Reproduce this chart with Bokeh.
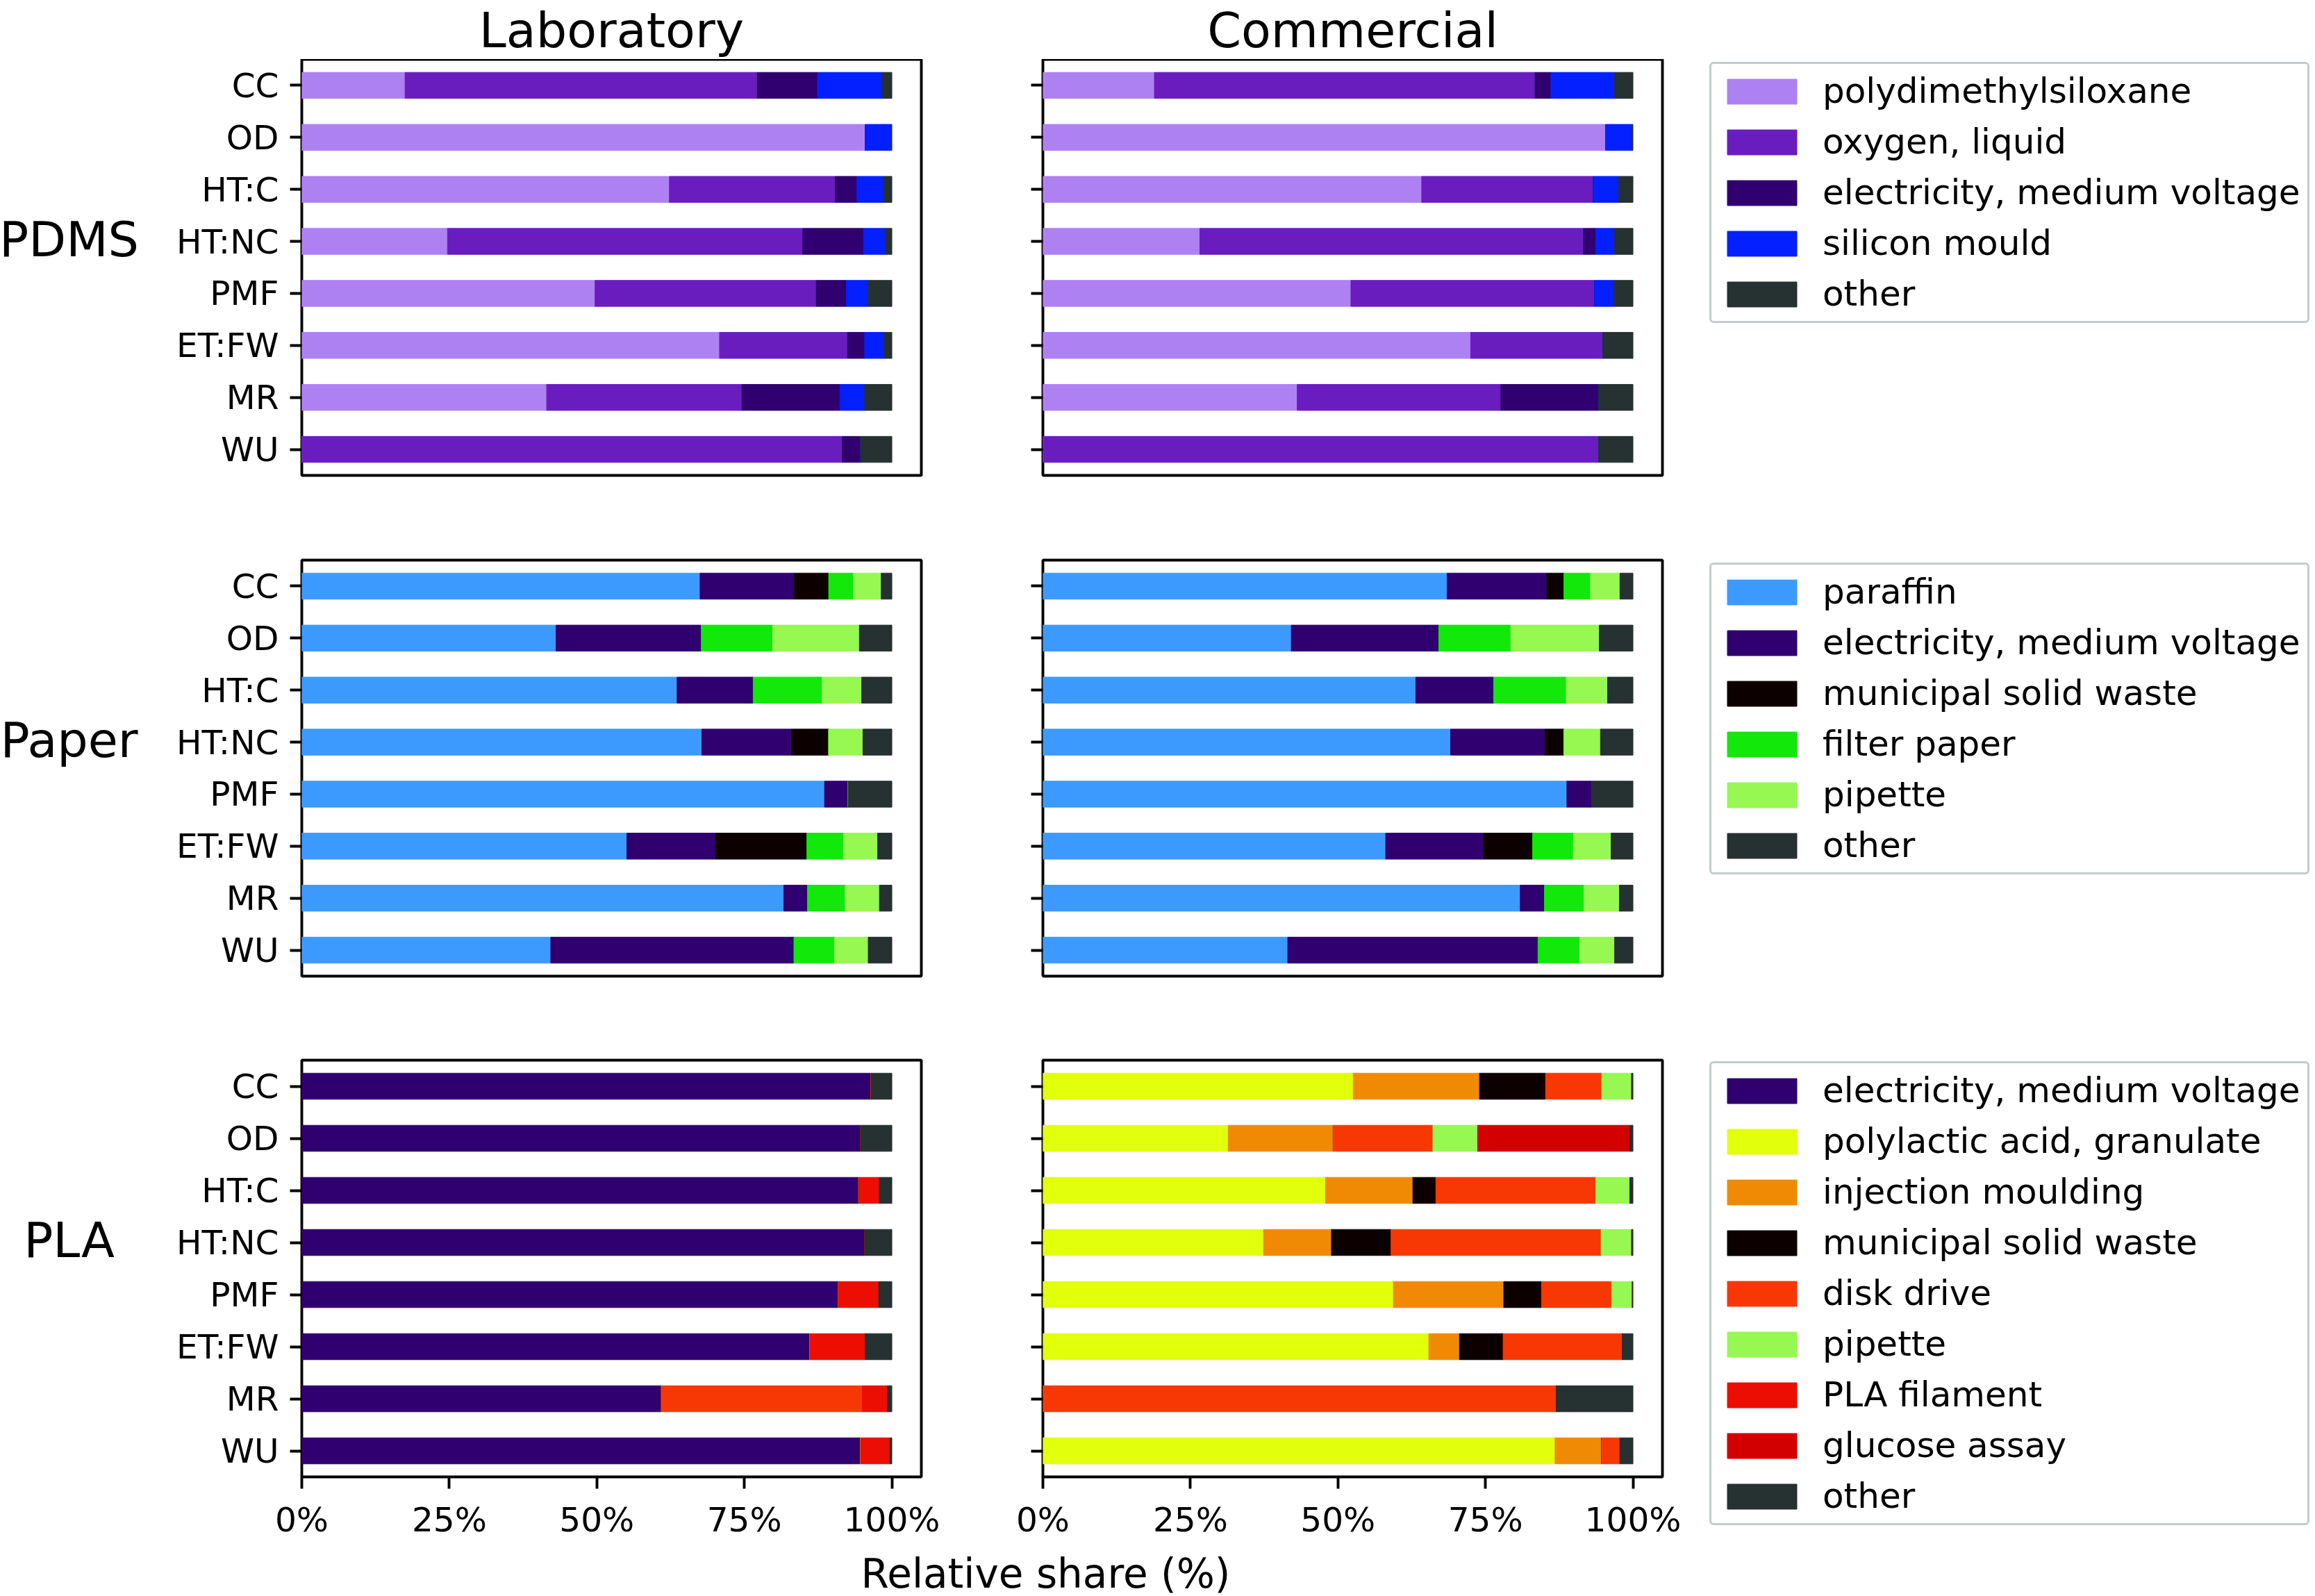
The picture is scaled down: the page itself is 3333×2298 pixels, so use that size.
from bokeh.plotting import figure
from bokeh.layouts import row, column
from bokeh.models import Range1d, FactorRange, FixedTicker, ColumnDataSource, Legend, LegendItem
from bokeh.core.properties import value
from bokeh.embed import file_html
from bokeh.resources import INLINE

# ---------------- data ----------------
categories = ["CC", "OD", "HT:C", "HT:NC", "PMF", "ET:FW", "MR", "WU"]
x_ticks = [0, 25, 50, 75, 100]
x_tick_labels = ["0%", "25%", "50%", "75%", "100%"]
column_titles = ["Laboratory", "Commercial"]
row_titles = ["PDMS", "Paper", "PLA"]
x_label = "Relative share (%)"

pdms_series = ["polydimethylsiloxane", "oxygen, liquid", "electricity, medium voltage",
               "silicon mould", "other"]
pdms_colors = ["#ae81f3", "#6a1dbf", "#300070", "#0420ff", "#263131"]
pdms_lab = {
    "polydimethylsiloxane":        [17.5, 95.5, 62.3, 24.7, 49.7, 70.8, 41.5, 0.0],
    "oxygen, liquid":              [59.7, 0.0, 28.1, 60.2, 37.5, 21.7, 33.1, 91.6],
    "electricity, medium voltage": [10.2, 0.0, 3.7, 10.3, 5.1, 2.9, 16.6, 3.1],
    "silicon mould":               [11.0, 4.4, 4.5, 3.8, 3.7, 3.3, 4.2, 0.0],
    "other":                       [1.6, 0.1, 1.4, 1.0, 4.0, 1.3, 4.6, 5.3],
}
pdms_com = {
    "polydimethylsiloxane":        [18.9, 95.4, 64.2, 26.6, 52.2, 72.5, 43.1, 0.0],
    "oxygen, liquid":              [64.5, 0.0, 29.1, 65.0, 41.3, 22.4, 34.5, 94.2],
    "electricity, medium voltage": [2.7, 0.0, 0.0, 2.1, 0.0, 0.0, 16.6, 0.0],
    "silicon mould":               [10.8, 4.5, 4.3, 3.2, 3.3, 0.0, 0.0, 0.0],
    "other":                       [3.1, 0.1, 2.4, 3.1, 3.2, 5.1, 5.8, 5.8],
}

paper_series = ["paraffin", "electricity, medium voltage", "municipal solid waste",
                "filter paper", "pipette", "other"]
paper_colors = ["#3c9aff", "#300070", "#0d0000", "#12e80a", "#96f850", "#263131"]
paper_lab = {
    "paraffin":                    [67.5, 43.1, 63.6, 67.8, 88.6, 55.1, 81.7, 42.2],
    "electricity, medium voltage": [16.0, 24.6, 12.9, 15.2, 4.0, 15.0, 4.0, 41.2],
    "municipal solid waste":       [5.8, 0.0, 0.0, 6.3, 0.0, 15.5, 0.0, 0.0],
    "filter paper":                [4.2, 12.1, 11.7, 0.0, 0.0, 6.2, 6.4, 6.9],
    "pipette":                     [4.7, 14.7, 6.7, 5.8, 0.0, 5.8, 5.8, 5.7],
    "other":                       [1.8, 5.5, 5.1, 4.9, 7.4, 2.4, 2.1, 4.0],
}
paper_com = {
    "paraffin":                    [68.5, 42.1, 63.2, 69.1, 88.8, 58.1, 80.9, 41.5],
    "electricity, medium voltage": [16.9, 25.0, 13.2, 16.0, 4.2, 16.6, 4.1, 42.4],
    "municipal solid waste":       [2.9, 0.0, 0.0, 3.2, 0.0, 8.3, 0.0, 0.0],
    "filter paper":                [4.5, 12.2, 12.3, 0.0, 0.0, 6.9, 6.7, 7.1],
    "pipette":                     [5.0, 15.0, 7.0, 6.2, 0.0, 6.4, 6.0, 5.9],
    "other":                       [2.2, 5.7, 4.3, 5.5, 7.0, 3.7, 2.3, 3.1],
}

pla_series = ["electricity, medium voltage", "polylactic acid, granulate", "injection moulding",
              "municipal solid waste", "disk drive", "pipette", "PLA filament",
              "glucose assay", "other"]
pla_colors = ["#300070", "#e2ff0c", "#f08a05", "#0d0000", "#f73804", "#96f850",
              "#ec0e02", "#d30000", "#263131"]
pla_lab = {
    "electricity, medium voltage": [96.5, 94.7, 94.4, 95.4, 90.9, 86.1, 60.9, 94.7],
    "polylactic acid, granulate":  [0.0, 0.0, 0.0, 0.0, 0.0, 0.0, 0.0, 0.0],
    "injection moulding":          [0.0, 0.0, 0.0, 0.0, 0.0, 0.0, 0.0, 0.0],
    "municipal solid waste":       [0.0, 0.0, 0.0, 0.0, 0.0, 0.0, 0.0, 0.0],
    "disk drive":                  [0.0, 0.0, 0.0, 0.0, 0.0, 0.0, 34.1, 0.0],
    "pipette":                     [0.0, 0.0, 0.0, 0.0, 0.0, 0.0, 0.0, 0.0],
    "PLA filament":                [0.0, 0.0, 3.5, 0.0, 6.9, 9.4, 4.3, 5.0],
    "glucose assay":               [0.0, 0.0, 0.0, 0.0, 0.0, 0.0, 0.0, 0.0],
    "other":                       [3.5, 5.3, 2.1, 4.6, 2.2, 4.5, 0.7, 0.3],
}
pla_com = {
    "electricity, medium voltage": [0.0, 0.0, 0.0, 0.0, 0.0, 0.0, 0.0, 0.0],
    "polylactic acid, granulate":  [52.6, 31.4, 47.9, 37.4, 59.4, 65.4, 0.0, 86.8],
    "injection moulding":          [21.4, 17.8, 14.8, 11.5, 18.7, 5.2, 0.0, 7.9],
    "municipal solid waste":       [11.2, 0.0, 3.9, 10.1, 6.4, 7.4, 0.0, 0.0],
    "disk drive":                  [9.5, 16.9, 27.1, 35.6, 11.9, 20.2, 87.0, 3.1],
    "pipette":                     [5.1, 7.6, 5.8, 5.2, 3.5, 0.0, 0.0, 0.0],
    "PLA filament":                [0.0, 0.0, 0.0, 0.0, 0.0, 0.0, 0.0, 0.0],
    "glucose assay":               [0.0, 25.8, 0.0, 0.0, 0.0, 0.0, 0.0, 0.0],
    "other":                       [0.2, 0.5, 0.5, 0.2, 0.1, 1.8, 13.0, 2.2],
}

# ---------------- layout constants ----------------
FONT = "DejaVu Sans"
W, H = 3333, 2298
TITLE_H = 85
BOTTOM_H = 68
LABEL_W = 234
LAB_W, LAB_L, LAB_R = 1179, 200, 87
COM_W, COM_L, COM_R = 1040, 88, 60
LEFT_W = LABEL_W + LAB_W + COM_W
LEG_W = W - LEFT_W
ROW_H = [660, 720, 765]
ROW_TOP = [0, 61, 61]
ROW_BOT = [61, 60, 104]
FRAME_H = [h - t - b for h, t, b in zip(ROW_H, ROW_TOP, ROW_BOT)]
ROW_LABEL_Y = 259           # centre of row label below the panel frame top
TITLE_Y = 43
XLABEL_Y = 35
LEG_PAD, LEG_SPACING, LEG_ITEM_H = 10, 15, 58
LEG_X = 8                   # legend box left, relative to legend figure
LEG_TOPS = [92, 813, 1531]  # legend box tops on the page
LW = 3.9
TICK_FS = "48.6px"
LEG_FS = "50px"
TITLE_FS = "70px"
XLABEL_FS = "58px"


def style_axes(p, show_x, show_y, x_ticks_visible):
    for ax, show in ((p.xaxis[0], show_x), (p.yaxis[0], show_y)):
        ax.axis_line_color = None
        ax.major_tick_out = 17
        ax.major_tick_in = 0
        ax.major_tick_line_width = LW
        ax.major_tick_line_color = "black"
        ax.minor_tick_line_color = None
        ax.major_label_standoff = 16
        ax.major_label_text_font = FONT
        if show:
            ax.major_label_text_font_size = TICK_FS
            ax.major_label_text_color = "black"
        else:
            ax.major_label_text_font_size = "0px"
            ax.major_label_text_color = None
    if not x_ticks_visible:
        p.xaxis.major_tick_out = 0
        p.xaxis.major_tick_line_color = None
    p.xaxis.ticker = FixedTicker(ticks=x_ticks)
    p.xaxis.major_label_overrides = {t: l for t, l in zip(x_ticks, x_tick_labels)}
    p.grid.visible = False
    p.outline_line_color = "black"
    p.outline_line_width = LW
    p.outline_line_alpha = 1.0


def make_source(data, series):
    keys = [f"s{i}" for i in range(len(series))]
    src = ColumnDataSource(dict(cat=categories, **{k: data[s] for k, s in zip(keys, series)}))
    return keys, src


def panel(data, series, colors, width, left, right, r, show_y):
    keys, src = make_source(data, series)
    p = figure(width=width, height=ROW_H[r], output_backend="svg", toolbar_location=None,
               x_range=Range1d(0, 105), y_range=FactorRange(factors=list(reversed(categories))),
               min_border_left=left, min_border_right=right,
               min_border_top=ROW_TOP[r], min_border_bottom=ROW_BOT[r],
               background_fill_color="white", border_fill_color="white")
    p.hbar_stack(keys, y="cat", height=0.5, color=colors, source=src, line_width=1)
    last = (r == len(ROW_H) - 1)
    style_axes(p, show_x=last, show_y=show_y, x_ticks_visible=last)
    return p


def row_label_fig(r):
    p = figure(width=LABEL_W, height=ROW_H[r], output_backend="svg", toolbar_location=None,
               x_range=Range1d(0, LABEL_W), y_range=Range1d(FRAME_H[r], 0),
               x_axis_type=None, y_axis_type=None,
               min_border_left=0, min_border_right=0,
               min_border_top=ROW_TOP[r], min_border_bottom=ROW_BOT[r],
               outline_line_color=None, background_fill_color="white",
               border_fill_color="white")
    p.grid.visible = False
    p.text(x=[99], y=[ROW_LABEL_Y], text=[row_titles[r]], text_align="center",
           text_baseline="middle", text_font=value(FONT), text_font_size=TITLE_FS,
           text_color="black")
    return p


def text_fig(width, height, xs, ys, texts, size):
    p = figure(width=width, height=height, output_backend="svg", toolbar_location=None,
               x_range=Range1d(0, width), y_range=Range1d(height, 0),
               x_axis_type=None, y_axis_type=None, min_border=0,
               outline_line_color=None, background_fill_color="white",
               border_fill_color="white")
    p.grid.visible = False
    p.text(x=xs, y=ys, text=texts, text_align="center", text_baseline="alphabetic",
           text_font=value(FONT), text_font_size=size, text_color="black")
    return p


groups = [
    (pdms_series, pdms_colors, pdms_lab, pdms_com),
    (paper_series, paper_colors, paper_lab, paper_com),
    (pla_series, pla_colors, pla_lab, pla_com),
]

# legend figure: one tall canvas holding the three legends; its renderers lie outside
# the visible x-range so only the legend swatches show.
leg_fig = figure(width=LEG_W, height=H, output_backend="svg", toolbar_location=None,
                 x_range=Range1d(-2, -1), y_range=FactorRange(factors=list(reversed(categories))),
                 x_axis_type=None, y_axis_type=None, min_border=0,
                 outline_line_color=None, background_fill_color="white",
                 border_fill_color="white")
leg_fig.grid.visible = False

for g, (series, colors, lab, com) in enumerate(groups):
    keys, src = make_source(com, series)
    rends = leg_fig.hbar_stack(keys, y="cat", height=0.5, color=colors, source=src)
    n = len(series)
    leg_h = 2 * LEG_PAD + n * LEG_ITEM_H + (n - 1) * LEG_SPACING + 3
    vy = H - LEG_TOPS[g] - leg_h
    leg = Legend(items=[LegendItem(label=s, renderers=[rr]) for s, rr in zip(series, rends)],
                 location=(LEG_X, vy), margin=0,
                 label_text_font=FONT, label_text_font_size=LEG_FS,
                 label_text_color="black",
                 glyph_width=125, glyph_height=45, label_standoff=25,
                 padding=LEG_PAD, spacing=LEG_SPACING,
                 border_line_color="#c2cccc", border_line_width=3, border_line_alpha=1.0,
                 background_fill_color="white", background_fill_alpha=1.0)
    if "border_radius" in Legend.properties():
        leg.border_radius = 6
    leg_fig.add_layout(leg)

lab_center = LABEL_W + LAB_L + (LAB_W - LAB_L - LAB_R) / 2
com_center = LABEL_W + LAB_W + COM_L + (COM_W - COM_L - COM_R) / 2

left_items = [text_fig(LEFT_W, TITLE_H, [lab_center, com_center], [TITLE_Y, TITLE_Y],
                       column_titles, TITLE_FS)]
for r, (series, colors, lab, com) in enumerate(groups):
    p_lab = panel(lab, series, colors, LAB_W, LAB_L, LAB_R, r, True)
    p_com = panel(com, series, colors, COM_W, COM_L, COM_R, r, False)
    left_items.append(row(row_label_fig(r), p_lab, p_com))
left_items.append(text_fig(LEFT_W, BOTTOM_H, [1505], [XLABEL_Y], [x_label], XLABEL_FS))

layout = row(column(*left_items), leg_fig)

with open("out.html", "w") as f:
    f.write(file_html(layout, INLINE))
